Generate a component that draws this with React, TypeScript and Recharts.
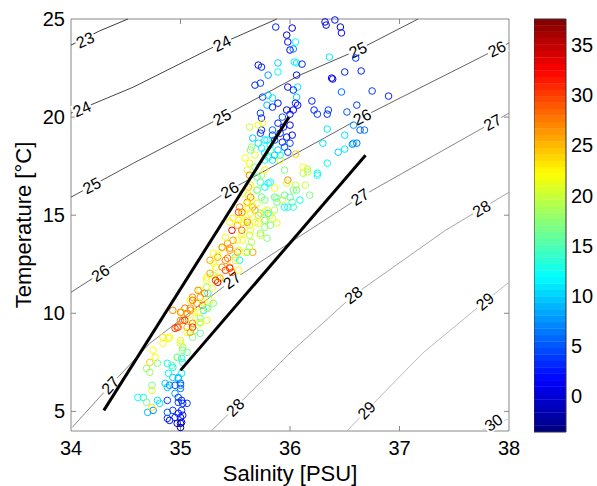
import React from "react";
import {
  ReferenceArea,
  ReferenceLine,
  Scatter,
  ScatterChart,
  XAxis,
  YAxis,
} from "recharts";

const S_TICKS = [34, 35, 36, 37, 38];
const T_TICKS = [5, 10, 15, 20, 25];
const C_TICKS = [0, 5, 10, 15, 20, 25, 30, 35];
const C_MIN = -3.6;
const C_MAX = 37.6;

// isopycnals (sigma-t), [salinity, temperature]
const sigma23 = [[34.0, 23.67], [34.26, 24.39], [34.52, 25.0]];
const sigma24 = [[34.0, 20.2], [34.57, 21.53], [35.3, 23.57], [35.88, 25.0]];
const sigma25 = [[34.0, 15.92], [34.57, 17.65], [35.38, 20.0], [36.09, 22.14], [36.62, 23.42], [37.17, 25.0]];
const sigma26 = [[34.0, 11.07], [34.72, 13.65], [35.45, 16.28], [36.66, 20.0], [38.0, 23.78]];
const sigma27 = [[34.01, 4.18], [34.36, 6.33], [34.72, 8.47], [35.47, 11.68], [36.64, 15.92], [38.0, 20.2]];
const sigma28 = [[35.28, 4.0], [35.5, 5.2], [36.0, 7.98], [36.58, 10.92], [37.42, 14.23], [38.0, 16.17]];
const sigma29 = [[36.52, 4.0], [36.7, 5.05], [37.21, 7.96], [37.78, 10.6], [38.0, 11.58]];
const sigma30 = [[37.74, 4.0], [38.0, 4.64]];

// contour labels: text, S, T, angle
const contourLabels: [string, number, number, number][] = [
  ["23", 34.13, 23.93, -24],
  ["24", 34.1, 20.42, -24],
  ["24", 35.38, 23.75, -26],
  ["25", 34.19, 16.5, -28],
  ["25", 35.38, 20.0, -28],
  ["25", 36.62, 23.42, -25],
  ["26", 34.27, 12.04, -33],
  ["26", 35.45, 16.28, -30],
  ["26", 36.66, 20.0, -27],
  ["26", 37.89, 23.47, -26],
  ["27", 34.36, 6.33, -48],
  ["27", 35.47, 11.68, -37],
  ["27", 36.64, 15.92, -33],
  ["27", 37.85, 19.73, -29],
  ["28", 35.5, 5.2, -45],
  ["28", 36.58, 10.92, -37],
  ["28", 37.75, 15.33, -31],
  ["29", 36.7, 5.05, -45],
  ["29", 37.78, 10.6, -40],
  ["30", 37.86, 4.42, -35],
];

// the two black guide lines
const lineA = [[34.3, 5.05], [35.99, 20.0]];
const lineB = [[35.0, 7.09], [36.69, 18.06]];

// observations: [salinity, temperature, colour value]
const upperObs = [
  [35.87, 24.59, 3], [36.02, 24.54, 0], [35.97, 24.18, 1], [35.98, 23.83, 2], [36.0, 23.42, 1],
  [35.71, 22.65, 2], [35.74, 22.55, 3], [35.89, 22.76, 10], [35.89, 22.3, 12], [36.06, 22.76, 11],
  [35.8, 22.14, 8], [35.68, 21.63, 3], [35.73, 21.73, 4], [35.98, 21.53, 2], [35.75, 21.02, 4],
  [35.8, 21.12, 10], [35.84, 20.97, 11], [35.89, 20.71, 2], [35.79, 20.61, 9], [35.84, 20.51, 3],
  [35.73, 20.2, 4], [35.97, 20.36, 0], [35.74, 19.95, 3], [35.93, 20.0, 5], [36.07, 20.61, 2],
  [36.06, 22.14, 2], [36.07, 21.53, 11], [36.06, 21.02, 10], [35.75, 19.69, 22], [36.05, 23.83, 12],
  [36.03, 23.47, 7], [36.32, 24.85, 0], [36.33, 24.69, 1], [36.41, 24.95, 2], [36.46, 24.59, 0],
  [36.47, 24.29, 2], [36.36, 23.06, 11], [36.6, 23.01, 4], [36.04, 22.81, 12], [36.11, 22.7, 3],
  [36.03, 21.38, 3], [36.38, 21.99, 0], [36.39, 21.94, 1], [36.5, 22.3, 3], [36.65, 22.35, 3],
  [36.47, 21.28, 6], [36.75, 21.33, 4], [36.9, 21.07, 3], [36.05, 20.71, 3], [36.2, 20.82, 3],
  [36.22, 20.36, 3], [36.25, 20.15, 4], [36.35, 20.36, 4], [36.34, 20.15, 3], [36.52, 20.26, 5],
  [36.61, 20.61, 4], [36.03, 20.36, 1], [36.0, 20.15, 2], [36.34, 19.39, 11], [36.58, 19.59, 8],
  [36.64, 19.34, 5], [36.68, 19.34, 6], [36.5, 19.08, 11], [36.58, 18.67, 10], [36.3, 18.67, 11],
];

const middleObs = [
  [36.05, 18.11, 24], [35.98, 18.21, 4], [36.44, 18.21, 10], [36.5, 18.37, 11], [36.57, 18.62, 7],
  [36.61, 18.67, 6], [36.34, 17.65, 12], [36.16, 17.35, 18], [36.16, 17.2, 20], [36.12, 17.14, 19],
  [36.25, 17.04, 13], [35.98, 16.79, 27], [35.97, 16.63, 21], [36.03, 16.28, 17], [36.05, 16.53, 20],
  [35.86, 15.92, 16], [35.88, 15.66, 16], [36.0, 15.92, 15], [36.02, 15.66, 16], [35.98, 15.41, 13],
  [36.03, 15.41, 14], [35.95, 15.41, 12], [35.86, 15.26, 19], [35.77, 15.15, 22], [35.82, 15.0, 21],
  [35.77, 14.74, 22], [35.84, 14.85, 20], [35.88, 14.6, 21], [35.89, 19.69, 3], [35.94, 19.49, 2],
  [36.0, 19.59, 1], [35.84, 19.08, 4], [35.91, 19.18, 3], [35.97, 18.98, 2], [36.02, 19.08, 1],
  [35.86, 18.83, 5], [35.93, 18.72, 3], [36.0, 18.67, 4], [35.95, 18.47, 5], [35.84, 19.34, 6],
  [35.66, 18.93, 10], [35.71, 18.67, 11], [35.74, 18.42, 12], [35.77, 18.17, 11], [35.8, 17.96, 12],
  [35.77, 17.81, 13], [35.84, 17.81, 11], [35.86, 18.06, 9], [35.73, 19.18, 4], [35.74, 19.34, 3],
  [35.71, 19.59, 22], [35.63, 19.49, 20], [35.79, 18.83, 12], [35.65, 18.47, 18], [35.63, 17.65, 22],
  [35.68, 17.45, 17], [35.61, 17.3, 21], [35.63, 17.04, 27], [35.7, 16.94, 16], [35.73, 16.68, 15],
  [35.74, 17.04, 18], [35.82, 16.68, 13], [35.77, 16.43, 12], [35.7, 16.28, 15], [35.62, 16.43, 25],
  [35.57, 16.12, 22], [35.62, 16.02, 21], [35.74, 15.92, 16], [35.61, 15.66, 28], [35.65, 15.77, 22],
  [35.66, 15.41, 26], [35.62, 15.36, 22], [35.54, 15.41, 27], [35.53, 15.15, 30], [35.57, 15.1, 22],
  [35.48, 14.85, 23], [35.53, 14.74, 21], [35.61, 14.74, 23], [35.68, 15.26, 26], [35.71, 15.0, 24],
  [35.79, 15.26, 21], [36.06, 16.28, 16], [36.12, 17.45, 22], [36.25, 17.14, 12], [35.93, 15.77, 21],
  [35.88, 15.87, 17], [35.82, 18.32, 16], [35.91, 17.81, 21], [35.95, 17.3, 17], [35.77, 17.3, 22],
  [35.86, 16.38, 22], [35.95, 16.02, 16], [36.09, 15.77, 12], [36.14, 16.53, 20], [36.18, 16.02, 17],
  [35.77, 18.83, 11], [35.82, 18.57, 12], [35.89, 18.32, 10], [35.91, 18.06, 12], [35.68, 18.06, 21],
  [35.59, 17.91, 22], [35.64, 18.32, 17],
];

const bandObs = [
  [35.47, 14.23, 33], [35.45, 14.64, 22], [35.52, 14.49, 26], [35.57, 14.64, 22], [35.63, 14.49, 21],
  [35.71, 14.59, 22], [35.77, 14.39, 18], [35.82, 14.49, 17], [35.56, 14.08, 22], [35.63, 13.98, 19],
  [35.73, 13.98, 21], [35.79, 13.83, 17], [35.52, 13.72, 22], [35.43, 13.57, 26], [35.38, 13.32, 22],
  [35.45, 13.21, 26], [35.52, 13.11, 27], [35.59, 13.11, 22], [35.66, 13.11, 26], [35.63, 13.37, 19],
  [35.3, 13.06, 22], [35.34, 12.86, 26], [35.41, 12.7, 27], [35.5, 12.86, 17], [35.54, 12.7, 12],
  [35.45, 12.35, 26], [35.41, 12.19, 30], [35.47, 12.09, 29], [35.53, 12.19, 22], [35.32, 12.35, 22],
  [35.27, 12.7, 26], [35.24, 11.84, 22], [35.3, 11.94, 19], [35.36, 11.79, 26], [35.34, 11.58, 35],
  [35.24, 11.33, 18], [35.18, 11.17, 22], [35.25, 11.02, 12], [35.18, 10.82, 26], [35.11, 10.82, 27],
  [35.09, 10.66, 22], [35.15, 10.51, 27], [35.2, 10.41, 28], [35.27, 10.66, 22], [35.3, 10.51, 17],
  [35.09, 10.26, 27], [35.04, 10.26, 28], [35.01, 10.05, 23], [35.06, 10.0, 27], [35.13, 10.05, 22],
  [35.21, 10.15, 11], [35.25, 10.26, 17], [35.0, 9.64, 27], [35.04, 9.64, 31], [35.1, 9.64, 22],
  [35.18, 9.74, 17], [34.98, 9.29, 27], [35.06, 9.29, 26], [34.95, 9.23, 30],
  [35.64, 16.53, 22], [35.7, 16.28, 18], [35.8, 16.63, 12], [35.64, 15.92, 27], [35.61, 15.61, 22],
  [35.7, 15.61, 21], [35.77, 15.77, 17], [35.56, 15.15, 27], [35.64, 15.1, 22], [35.73, 15.1, 17],
  [35.8, 15.1, 13], [35.53, 14.74, 22], [35.61, 14.64, 27], [35.68, 14.64, 21], [35.77, 14.74, 17],
  [35.56, 14.23, 28], [35.64, 14.23, 22], [35.73, 14.08, 18], [35.41, 13.88, 22], [35.48, 13.72, 26],
  [35.57, 13.72, 22], [35.65, 13.62, 19], [35.38, 13.37, 27], [35.45, 13.32, 27], [35.53, 13.21, 21],
  [35.61, 13.11, 17], [35.34, 12.96, 22], [35.43, 12.81, 28], [35.5, 12.7, 23], [35.3, 12.55, 22],
  [35.38, 12.35, 27], [35.45, 12.3, 31], [35.27, 12.04, 26], [35.34, 11.84, 23], [35.24, 11.68, 22],
  [35.32, 11.68, 31], [35.16, 11.17, 27], [35.22, 11.02, 28], [35.29, 11.28, 22], [35.11, 10.66, 28],
  [35.2, 10.56, 22], [35.09, 10.15, 27], [35.16, 10.05, 22], [35.24, 10.26, 18], [35.02, 9.64, 28],
  [35.11, 9.49, 27], [35.18, 9.54, 17], [34.97, 9.29, 30], [35.06, 9.03, 22], [35.13, 9.13, 18],
];

const lowerObs = [
  [34.93, 10.15, 27], [35.0, 10.05, 27], [35.11, 9.29, 31], [35.18, 9.49, 22], [35.24, 9.64, 21],
  [35.11, 8.78, 17], [35.18, 8.98, 16], [35.09, 9.03, 26], [34.84, 8.78, 23], [34.89, 8.72, 22],
  [35.0, 8.62, 21], [35.02, 8.27, 18], [35.06, 8.01, 16], [34.97, 7.76, 19], [35.01, 7.7, 13],
  [34.88, 7.45, 12], [34.92, 7.35, 16], [34.89, 6.94, 12], [34.93, 6.73, 10], [34.98, 6.68, 8],
  [35.01, 6.94, 11], [34.75, 8.11, 22], [34.77, 7.76, 22], [34.72, 7.5, 24], [34.69, 7.19, 18],
  [34.74, 6.33, 17], [34.74, 6.07, 21], [34.61, 5.71, 12], [34.66, 5.71, 12], [34.69, 5.46, 17],
  [34.79, 5.56, 11], [34.81, 5.41, 11], [34.86, 6.43, 10], [34.88, 6.22, 10], [34.9, 6.33, 7],
  [34.95, 6.33, 5], [35.0, 6.43, 5], [35.0, 6.17, 6], [34.95, 5.92, 8], [34.7, 4.95, 9],
  [34.75, 5.05, 7], [34.88, 5.56, 4], [34.98, 5.46, 4], [35.06, 5.41, 4], [35.01, 5.56, 3],
  [34.88, 4.64, 3], [34.9, 4.54, 1], [34.95, 4.69, 3], [35.0, 4.69, 0], [35.01, 4.44, 0],
  [34.97, 4.39, -1], [35.0, 4.18, -2], [35.02, 4.8, 2], [34.93, 5.05, 4], [35.01, 5.05, 3],
  [34.88, 4.95, 5], [34.79, 7.45, 17], [34.72, 6.99, 18], [34.74, 5.2, 23],
  [34.9, 8.78, 22], [34.84, 8.47, 22], [35.0, 8.47, 21], [35.02, 8.11, 17], [34.97, 7.76, 16],
  [35.02, 7.5, 13], [34.93, 7.24, 12], [34.98, 6.73, 10], [35.0, 6.33, 6], [34.98, 5.71, 4],
  [35.02, 5.41, 3], [34.98, 4.9, 2], [35.0, 4.39, -1],
];

const FONT = "Arial, 'Liberation Sans', sans-serif";

function jet(v: number) {
  const x = Math.min(1, Math.max(0, (v - C_MIN) / (C_MAX - C_MIN)));
  const f = (d: number) => Math.round(255 * Math.min(1, Math.max(0, 1.5 - Math.abs(4 * x - d))));
  return `rgb(${f(3)},${f(2)},${f(1)})`;
}

const toST = (rows: number[][]) => rows.map(([s, t]) => ({ s, t }));
const toObs = (rows: number[][]) => rows.map(([s, t, v]) => ({ s, t, v }));

const isopycnals = [
  { data: sigma23, color: "#3a3a3a" },
  { data: sigma24, color: "#454545" },
  { data: sigma25, color: "#555" },
  { data: sigma26, color: "#666" },
  { data: sigma27, color: "#888" },
  { data: sigma28, color: "#a5a5a5" },
  { data: sigma29, color: "#bbb" },
  { data: sigma30, color: "#ccc" },
];

const observations = [...upperObs, ...middleObs, ...bandObs, ...lowerObs];

const labelData = contourLabels.map(([text, s, t, angle]) => ({ text, s, t, angle }));

const noDot = () => <g />;

// eslint-disable-next-line @typescript-eslint/no-explicit-any
const ring = (p: any) => (
  <circle cx={p.cx} cy={p.cy} r={3.3} fill="none" stroke={jet(p.payload.v)} strokeWidth={1} />
);

// eslint-disable-next-line @typescript-eslint/no-explicit-any
const contourText = (p: any) => (
  <g transform={`translate(${p.cx},${p.cy}) rotate(${p.payload.angle})`}>
    <rect x={-10} y={-7} width={20} height={14} fill="#fff" />
    <text x={0} y={5.5} textAnchor="middle" fontSize={16} fontFamily={FONT} fill="#000">
      {p.payload.text}
    </text>
  </g>
);

const tickLen = { x: 5 / 109.5, y: 5 / 19.62 };

const bandCount = 64;
const bandStep = (C_MAX - C_MIN) / bandCount;
const bands = Array.from({ length: bandCount }, (_, i) => ({
  y1: C_MIN + i * bandStep,
  y2: Math.min(C_MAX, C_MIN + (i + 1) * bandStep + bandStep * 0.05),
  color: jet(C_MIN + (i + 0.5) * bandStep),
}));

const barCorners = [{ x: 0, c: C_MIN }, { x: 1, c: C_MAX }];

export default function App() {
  const tickStyle = { fill: "#000", fontSize: 20, fontFamily: FONT };
  const titleStyle = { fontSize: 22, fontFamily: FONT, fill: "#000", textAnchor: "middle" as const };
  return (
    <div style={{ position: "absolute", left: 0, top: 0, width: 597, height: 486, background: "#fff" }}>
      <div style={{ position: "absolute", left: 0, top: 0 }}>
        <ScatterChart width={534} height={486} margin={{ top: 19, right: 25, bottom: 0, left: 0 }}>
          <XAxis
            type="number"
            dataKey="s"
            domain={[34, 38]}
            ticks={S_TICKS}
            tick={tickStyle}
            tickLine={false}
            tickSize={0}
            tickMargin={10}
            axisLine={{ stroke: "#888" }}
            height={55}
            label={{ value: "Salinity [PSU]", position: "center", dy: 15, style: titleStyle }}
          />
          <YAxis
            type="number"
            dataKey="t"
            domain={[4, 25]}
            ticks={T_TICKS}
            tick={tickStyle}
            tickLine={false}
            tickSize={0}
            tickMargin={6}
            axisLine={{ stroke: "#888" }}
            width={71}
            label={{ value: "Temperature [°C]", angle: -90, position: "center", dx: -12, style: titleStyle }}
          />
          <ReferenceLine y={25} stroke="#888" />
          <ReferenceLine x={38} stroke="#888" />
          {S_TICKS.slice(1, -1).map((s) => (
            <ReferenceLine key={`b${s}`} segment={[{ x: s, y: 4 }, { x: s, y: 4 + tickLen.y }]} stroke="#888" />
          ))}
          {S_TICKS.slice(1, -1).map((s) => (
            <ReferenceLine key={`t${s}`} segment={[{ x: s, y: 25 }, { x: s, y: 25 - tickLen.y }]} stroke="#888" />
          ))}
          {T_TICKS.slice(0, -1).map((t) => (
            <ReferenceLine key={`l${t}`} segment={[{ x: 34, y: t }, { x: 34 + tickLen.x, y: t }]} stroke="#888" />
          ))}
          {T_TICKS.slice(0, -1).map((t) => (
            <ReferenceLine key={`r${t}`} segment={[{ x: 38, y: t }, { x: 38 - tickLen.x, y: t }]} stroke="#888" />
          ))}
          {isopycnals.map((c, i) => (
            <Scatter
              key={`iso${i}`}
              data={toST(c.data)}
              line={{ stroke: c.color, strokeWidth: 1 }}
              shape={noDot}
              isAnimationActive={false}
            />
          ))}
          <Scatter data={labelData} shape={contourText} isAnimationActive={false} />
          <Scatter data={toObs(observations)} shape={ring} isAnimationActive={false} />
          <Scatter data={toST(lineA)} line={{ stroke: "#000", strokeWidth: 3 }} shape={noDot} isAnimationActive={false} />
          <Scatter data={toST(lineB)} line={{ stroke: "#000", strokeWidth: 3 }} shape={noDot} isAnimationActive={false} />
        </ScatterChart>
      </div>
      <div style={{ position: "absolute", left: 534, top: 0 }}>
        <ScatterChart width={63} height={486} margin={{ top: 19, right: 0, bottom: 54, left: 0 }}>
          <XAxis type="number" dataKey="x" domain={[0, 1]} hide />
          <YAxis
            type="number"
            dataKey="c"
            orientation="right"
            domain={[C_MIN, C_MAX]}
            allowDataOverflow
            ticks={C_TICKS}
            tick={tickStyle}
            tickLine={false}
            tickSize={0}
            tickMargin={5}
            axisLine={false}
            width={31}
          />
          {bands.map((b, i) => (
            <ReferenceArea key={i} x1={0} x2={1} y1={b.y1} y2={b.y2} fill={b.color} fillOpacity={1} stroke="none" />
          ))}
          <ReferenceArea x1={0} x2={1} y1={C_MIN} y2={C_MAX} fill="none" stroke="#333" strokeWidth={1} />
          <Scatter data={barCorners} shape={noDot} isAnimationActive={false} />
        </ScatterChart>
      </div>
    </div>
  );
}
